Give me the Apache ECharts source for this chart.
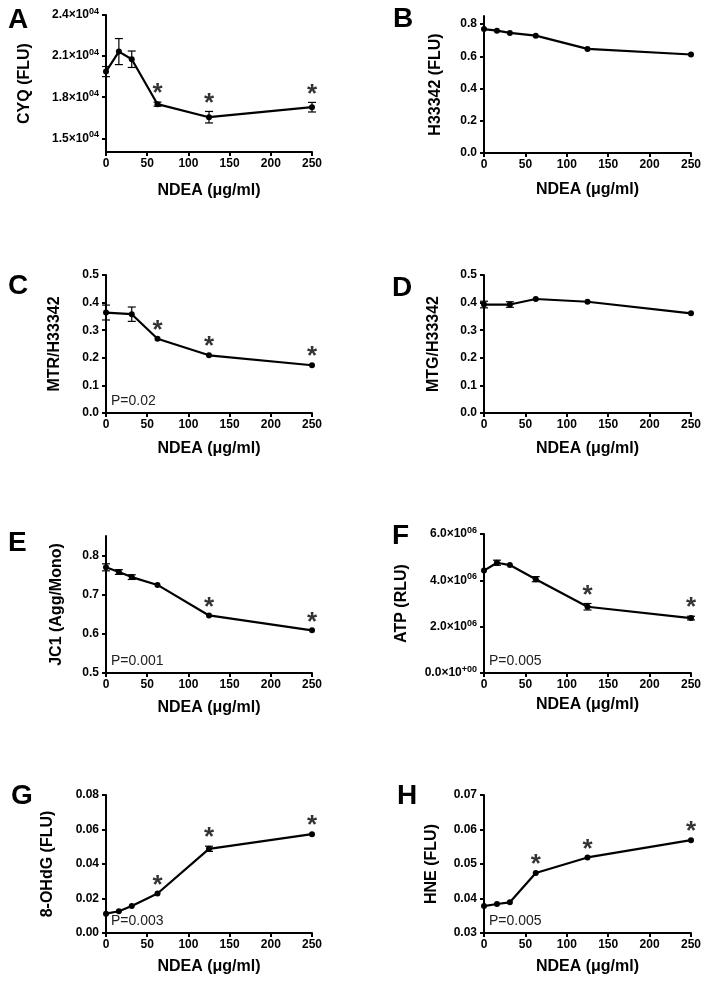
<!DOCTYPE html>
<html>
<head>
<meta charset="utf-8">
<script src="https://cdn.jsdelivr.net/npm/echarts@6/dist/echarts.min.js"></script>
<style>
  html, body { margin: 0; padding: 0; background: #fff; }
  #main { width: 709px; height: 990px; }
</style>
</head>
<body>
<div id="main"></div>
<script>
const FONT = '"Liberation Sans", Arial, Helvetica, sans-serif';

// doses (NDEA, ug/ml)
const doses = [0, 15.625, 31.25, 62.5, 125, 250];
const dosesShort = [0, 31.25, 62.5, 125, 250];
const xTicks = [0, 50, 100, 150, 200, 250];

// A - CYQ
const cyq = [19870, 21330, 20770, 17490, 16540, 17270];
const cyqErr = [370, 950, 600, 150, 420, 350];
const cyqStar = [0, 0, 0, 1, 1, 1];
const cyqTicks = [15000, 18000, 21000, 24000];

// B - H33342
const h33342 = [0.769, 0.759, 0.745, 0.728, 0.646, 0.611];
const h33342Err = [0, 0, 0, 0, 0, 0];
const h33342Star = [0, 0, 0, 0, 0, 0];
const h33342Ticks = [0, 0.2, 0.4, 0.6, 0.8];

// C - MTR/H33342
const mtr = [0.364, 0.358, 0.269, 0.209, 0.173];
const mtrErr = [0.027, 0.026, 0, 0, 0];
const mtrStar = [0, 0, 1, 1, 1];
const mtrTicks = [0, 0.1, 0.2, 0.3, 0.4, 0.5];

// D - MTG/H33342
const mtg = [0.393, 0.393, 0.413, 0.403, 0.361];
const mtgErr = [0.012, 0.01, 0, 0, 0];
const mtgStar = [0, 0, 0, 0, 0];
const mtgTicks = [0, 0.1, 0.2, 0.3, 0.4, 0.5];

// E - JC1
const jc1 = [0.770, 0.758, 0.745, 0.725, 0.647, 0.609];
const jc1Err = [0.009, 0.006, 0.006, 0, 0, 0];
const jc1Star = [0, 0, 0, 0, 1, 1];
const jc1Ticks = [0.5, 0.6, 0.7, 0.8];

// F - ATP
const atp = [4.42e6, 4.76e6, 4.66e6, 4.05e6, 2.86e6, 2.37e6];
const atpErr = [0, 0.11e6, 0, 0.11e6, 0.14e6, 0.08e6];
const atpStar = [0, 0, 0, 0, 1, 1];
const atpTicks = [0, 2e6, 4e6, 6e6];

// G - 8-OHdG
const ohdg = [0.0112, 0.0126, 0.0157, 0.0229, 0.0488, 0.0573];
const ohdgErr = [0, 0, 0, 0, 0.0015, 0];
const ohdgStar = [0, 0, 0, 1, 1, 1];
const ohdgTicks = [0, 0.02, 0.04, 0.06, 0.08];

// H - HNE
const hne = [0.0378, 0.0384, 0.0389, 0.0474, 0.0519, 0.0569];
const hneErr = [0, 0, 0, 0, 0, 0];
const hneStar = [0, 0, 0, 1, 1, 1];
const hneTicks = [0.03, 0.04, 0.05, 0.06, 0.07];

const sci = (v, div, exp) => '{m|' + (v / div).toFixed(1) + '×10}{s|' + exp + '}';

const panels = [
  { tag: 'A', x: doses, y: cyq, err: cyqErr, star: cyqStar, ticks: cyqTicks, min: 14000, max: 24000,
    fmt: v => sci(v, 1e4, '04'), name: 'CYQ (FLU)', pval: '',
    grid: { left: 106, top: 15, width: 206, height: 137 }, yGap: 73, xGap: 31, tagPos: [8, 6] },
  { tag: 'B', x: doses, y: h33342, err: h33342Err, star: h33342Star, ticks: h33342Ticks, min: 0, max: 0.85,
    fmt: v => v.toFixed(1), name: 'H33342 (FLU)', pval: '',
    grid: { left: 484, top: 16, width: 207, height: 137 }, yGap: 40, xGap: 29, tagPos: [393, 5] },
  { tag: 'C', x: dosesShort, y: mtr, err: mtrErr, star: mtrStar, ticks: mtrTicks, min: 0, max: 0.5,
    fmt: v => v.toFixed(1), name: 'MTR/H33342', pval: 'P=0.02',
    grid: { left: 106, top: 275, width: 206, height: 138 }, yGap: 43, xGap: 28, tagPos: [8, 272] },
  { tag: 'D', x: dosesShort, y: mtg, err: mtgErr, star: mtgStar, ticks: mtgTicks, min: 0, max: 0.5,
    fmt: v => v.toFixed(1), name: 'MTG/H33342', pval: '',
    grid: { left: 484, top: 275, width: 207, height: 138 }, yGap: 42, xGap: 28, tagPos: [392, 274] },
  { tag: 'E', x: doses, y: jc1, err: jc1Err, star: jc1Star, ticks: jc1Ticks, min: 0.5, max: 0.85,
    fmt: v => v.toFixed(1), name: 'JC1 (Agg/Mono)', pval: 'P=0.001',
    grid: { left: 106, top: 536, width: 206, height: 137 }, yGap: 41, xGap: 27, tagPos: [8, 529] },
  { tag: 'F', x: doses, y: atp, err: atpErr, star: atpStar, ticks: atpTicks, min: 0, max: 6e6,
    fmt: v => (v === 0 ? sci(0, 1, '+00') : sci(v, 1e6, '06')), name: 'ATP (RLU)', pval: 'P=0.005',
    grid: { left: 484, top: 534, width: 207, height: 139 }, yGap: 74, xGap: 24, tagPos: [392, 522] },
  { tag: 'G', x: doses, y: ohdg, err: ohdgErr, star: ohdgStar, ticks: ohdgTicks, min: 0, max: 0.08,
    fmt: v => v.toFixed(2), name: '8-OHdG (FLU)', pval: 'P=0.003',
    grid: { left: 106, top: 795, width: 206, height: 138 }, yGap: 50, xGap: 26, tagPos: [11, 782] },
  { tag: 'H', x: doses, y: hne, err: hneErr, star: hneStar, ticks: hneTicks, min: 0.03, max: 0.07,
    fmt: v => v.toFixed(2), name: 'HNE (FLU)', pval: 'P=0.005',
    grid: { left: 484, top: 795, width: 207, height: 138 }, yGap: 44, xGap: 26, tagPos: [397, 782] }
];

const axisLine = { show: true, lineStyle: { color: '#000', width: 2 } };
const axisTick = { show: true, length: 4, lineStyle: { color: '#000', width: 2 } };

const grids = [], xAxes = [], yAxes = [], series = [], graphics = [];

panels.forEach((p, i) => {
  grids.push(p.grid);
  xAxes.push({
    type: 'value', gridIndex: i, min: 0, max: 250,
    name: 'NDEA (μg/ml)', nameLocation: 'middle', nameGap: p.xGap,
    nameTextStyle: { fontFamily: FONT, fontSize: 16, fontWeight: 'bold', color: '#000' },
    axisLine, axisTick: Object.assign({ customValues: xTicks }, axisTick),
    splitLine: { show: false },
    axisLabel: { customValues: xTicks, fontFamily: FONT, fontSize: 12, fontWeight: 'bold', color: '#000', margin: 6 }
  });
  yAxes.push({
    type: 'value', gridIndex: i, min: p.min, max: p.max,
    name: p.name, nameLocation: 'middle', nameGap: p.yGap,
    nameTextStyle: { fontFamily: FONT, fontSize: 16, fontWeight: 'bold', color: '#000' },
    axisLine, axisTick: Object.assign({ customValues: p.ticks }, axisTick),
    splitLine: { show: false },
    axisLabel: {
      customValues: p.ticks, formatter: p.fmt, margin: 7,
      fontFamily: FONT, fontSize: 12, fontWeight: 'bold', color: '#000',
      rich: {
        m: { fontFamily: FONT, fontSize: 12, fontWeight: 'bold', color: '#000' },
        s: { fontFamily: FONT, fontSize: 9, fontWeight: 'bold', color: '#000', padding: [0, 0, 7, 0] }
      }
    }
  });

  series.push({
    type: 'line', xAxisIndex: i, yAxisIndex: i, clip: false, z: 4,
    data: p.x.map((x, k) => [x, p.y[k]]),
    symbol: 'circle', symbolSize: 6,
    lineStyle: { color: '#000', width: 2.2 }, itemStyle: { color: '#000' }
  });

  series.push({
    type: 'custom', xAxisIndex: i, yAxisIndex: i, clip: false, z: 3,
    data: p.x.map((x, k) => [x, p.y[k] - p.err[k], p.y[k] + p.err[k]]).filter((d, k) => p.err[k] > 0),
    renderItem: (params, api) => {
      const lo = api.coord([api.value(0), api.value(1)]);
      const hi = api.coord([api.value(0), api.value(2)]);
      const w = 4;
      const st = { stroke: '#000', lineWidth: 1.2 };
      return {
        type: 'group', children: [
          { type: 'line', shape: { x1: lo[0], y1: lo[1], x2: hi[0], y2: hi[1] }, style: st },
          { type: 'line', shape: { x1: lo[0] - w, y1: lo[1], x2: lo[0] + w, y2: lo[1] }, style: st },
          { type: 'line', shape: { x1: hi[0] - w, y1: hi[1], x2: hi[0] + w, y2: hi[1] }, style: st }
        ]
      };
    }
  });

  series.push({
    type: 'scatter', xAxisIndex: i, yAxisIndex: i, clip: false, symbolSize: 0, z: 5,
    data: p.x.map((x, k) => [x, p.y[k] + p.err[k]]).filter((d, k) => p.star[k]),
    label: {
      show: true, position: 'top', distance: -5, formatter: '*',
      fontFamily: FONT, fontSize: 26, fontWeight: 'bold', color: '#000'
    }
  });

  graphics.push({
    type: 'text', left: p.tagPos[0], top: p.tagPos[1],
    style: { text: p.tag, font: 'bold 28px ' + FONT, fill: '#000' }
  });
  if (p.pval) {
    graphics.push({
      type: 'text', left: p.grid.left + 5, top: p.grid.top + p.grid.height - 19,
      style: { text: p.pval, font: '14px ' + FONT, fill: '#222' }
    });
  }
});

const chart = echarts.init(document.getElementById('main'));
chart.setOption({
  animation: false,
  backgroundColor: '#fff',
  grid: grids,
  xAxis: xAxes,
  yAxis: yAxes,
  series: series,
  graphic: graphics
});
</script>
</body>
</html>
